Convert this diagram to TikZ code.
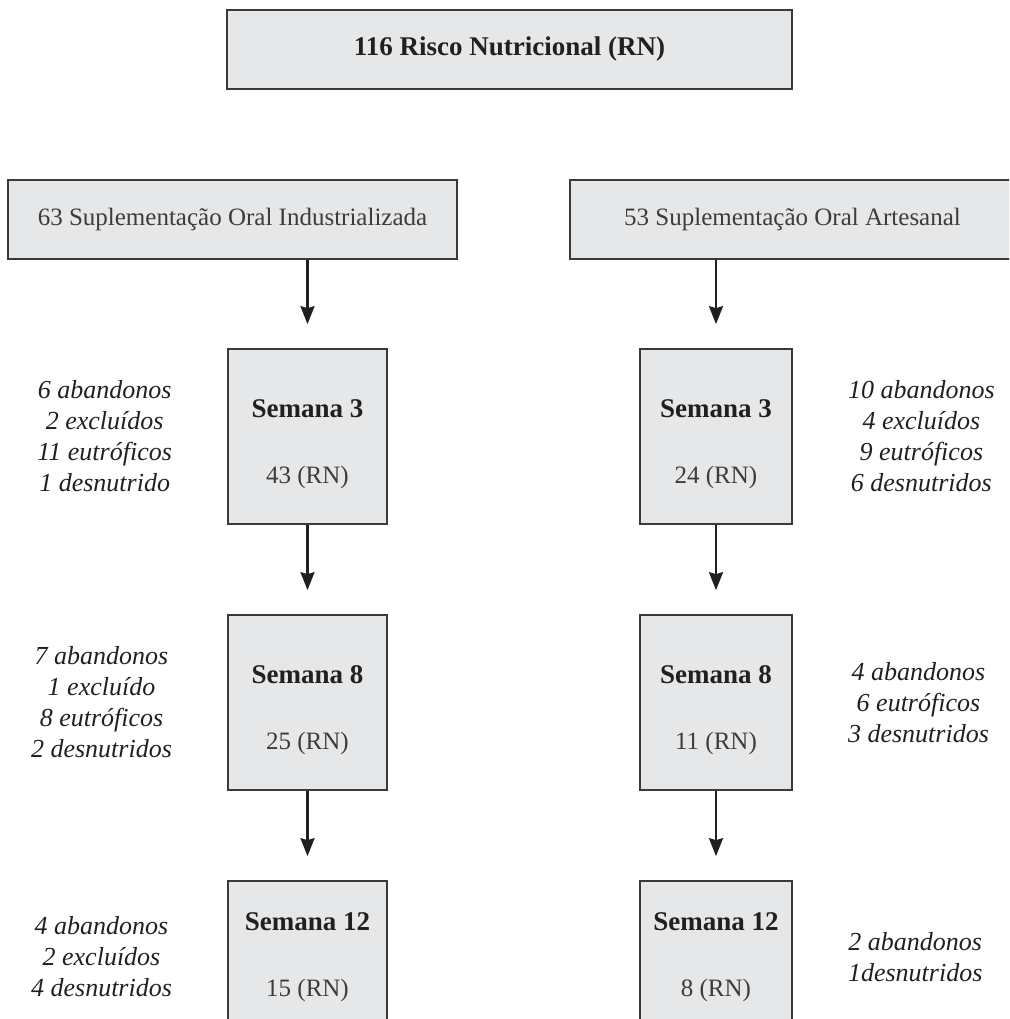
\documentclass[tikz,border=0pt]{standalone}
\usepackage{fontspec}
\setmainfont{Liberation Serif}
\usetikzlibrary{positioning,arrows.meta}
\definecolor{boxfill}{HTML}{E6E7E8}
\definecolor{boxline}{HTML}{3A3A3A}
\definecolor{ink}{HTML}{231F20}
\definecolor{soft}{HTML}{3C3C3C}
\newcommand{\hd}[1]{{\fontsize{27}{30}\selectfont\bfseries\color{ink}#1}}
\newcommand{\wk}[2]{\hd{Semana #1}\\[36pt]#2 (RN)}
\newcommand{\up}{\rule{0pt}{33pt}}
\begin{document}
\begin{tikzpicture}[x=1pt,y=-1pt]
        \tikzstyle{box}=[draw=boxline, fill=boxfill, line width=1.7pt, inner sep=0pt, align=center, text=soft, font=\fontsize{25}{30}\selectfont]
        \tikzstyle{note}=[inner sep=0pt, align=center, text=ink, font=\fontsize{26}{31}\selectfont\itshape]
        \tikzstyle{flow}=[-{Stealth[length=18pt,width=14pt,inset=2pt]}, line width=2.2pt, draw=ink, shorten >=24pt]
        \useasboundingbox (0,0) rectangle (1009,1019);
        \clip (0,0) rectangle (1009,1019);
        \node[box, minimum width=565pt, minimum height=79pt] (rn) at (509.5,49.5) {\hd{116 Risco Nutricional (RN)}};
        \node[box, minimum width=449pt, minimum height=79pt] (ind) at (232.5,219.5) {63 Suplementação Oral Industrializada};
        \node[box, minimum width=445pt, minimum height=79pt] (art) at (792.5,219.5) {53 Suplementação Oral Artesanal};
        \node[box, minimum width=159pt, minimum height=175pt] (s3l) at (307.5,436.5) {\up\wk{3}{43}};
        \node[box, minimum width=159pt, minimum height=175pt] (s8l) at (307.5,702.5) {\up\wk{8}{25}};
        \node[box, minimum width=159pt, minimum height=152pt] (s12l) at (307.5,957) {\wk{12}{15}};
        \node[box, minimum width=152pt, minimum height=175pt] (s3r) at (716,436.5) {\up\wk{3}{24}};
        \node[box, minimum width=152pt, minimum height=175pt] (s8r) at (716,702.5) {\up\wk{8}{11}};
        \node[box, minimum width=152pt, minimum height=152pt] (s12r) at (716,957) {\wk{12}{8}};
        \node[note, left=55pt of s3l] (n3l) {6 abandonos\\2 excluídos\\11 eutróficos\\1 desnutrido};
        \node[note, right=55pt of s3r] (n3r) {10 abandonos\\4 excluídos\\9 eutróficos\\6 desnutridos};
        \node[note, left=55pt of s8l] (n8l) {7 abandonos\\1 excluído\\8 eutróficos\\2 desnutridos};
        \node[note, right=55pt of s8r] (n8r) {4 abandonos\\6 eutróficos\\3 desnutridos};
        \node[note, left=55pt of s12l] (n12l) {4 abandonos\\2 excluídos\\4 desnutridos};
        \node[note, right=55pt of s12r] (n12r) {2 abandonos\\1desnutridos};
        \draw[flow] (ind.south -| s3l) -- (s3l);
        \draw[flow] (s3l) -- (s8l);
        \draw[flow] (s8l) -- (s12l);
        \draw[flow] (art.south -| s3r) -- (s3r);
        \draw[flow] (s3r) -- (s8r);
        \draw[flow] (s8r) -- (s12r);
\end{tikzpicture}
\end{document}
